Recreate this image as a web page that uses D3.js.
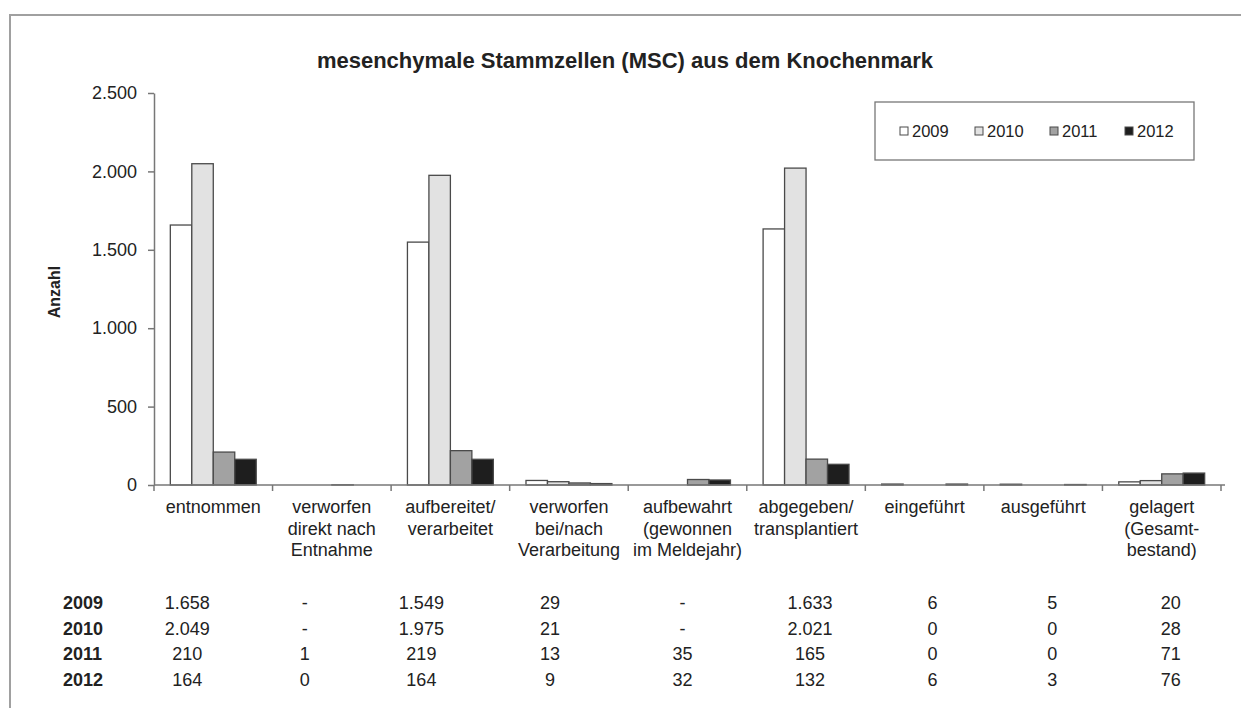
<!DOCTYPE html>
<html>
<head>
<meta charset="utf-8">
<script src="https://cdn.jsdelivr.net/npm/d3@7"></script>
<style>
    html, body { margin: 0; padding: 0; background: #fff; }
    svg { display: block; font-family: "Liberation Sans", Arial, sans-serif; }
    text { fill: #222; }
</style>
</head>
<body>
<svg id="chart" width="1241" height="708"></svg>
<script>
// data
const categories = ["entnommen", "verworfen direkt", "aufbereitet", "verworfen bei/nach",
    "aufbewahrt", "abgegeben", "eingeführt", "ausgeführt", "gelagert"]
const catLabels = [
    ["entnommen"],
    ["verworfen", "direkt nach", "Entnahme"],
    ["aufbereitet/", "verarbeitet"],
    ["verworfen", "bei/nach", "Verarbeitung"],
    ["aufbewahrt", "(gewonnen", "im Meldejahr)"],
    ["abgegeben/", "transplantiert"],
    ["eingeführt"],
    ["ausgeführt"],
    ["gelagert", "(Gesamt-", "bestand)"],
]
const years = ["2009", "2010", "2011", "2012"]
const v2009 = [1658, null, 1549, 29, null, 1633, 6, 5, 20]
const v2010 = [2049, null, 1975, 21, null, 2021, 0, 0, 28]
const v2011 = [210, 1, 219, 13, 35, 165, 0, 0, 71]
const v2012 = [164, 0, 164, 9, 32, 132, 6, 3, 76]
const yTicks = [0, 500, 1000, 1500, 2000, 2500]

const series = [v2009, v2010, v2011, v2012]
const fills = ["#ffffff", "#e2e2e2", "#a2a2a2", "#1e1e1e"]

// layout
const plotL = 154, plotR = 1221, plotT = 93, plotB = 485
// table columns were pasted with their own widths -- nudge from band centers
const colNudge = [-26, -27, -29, -19, -5, 4, 8, 9, 9]
const rowY = [609, 635, 660, 686]

const svg = d3.select("#chart")
const de = d3.formatLocale({decimal: ",", thousands: ".", grouping: [3], currency: ["", "€"]})
const fmt = de.format(",d")

// frame
svg.append("path")
    .attr("d", "M10,708 V15 H1241")
    .attr("fill", "none").attr("stroke", "#a0a0a0").attr("stroke-width", 2)

// title
svg.append("text")
    .attr("x", 625).attr("y", 68)
    .attr("text-anchor", "middle")
    .style("font-size", "22px").style("font-weight", "bold")
    .text("mesenchymale Stammzellen (MSC) aus dem Knochenmark")

// scales
const x = d3.scaleBand().domain(categories).range([plotL, plotR]).padding(0)
const xi = d3.scaleBand().domain(years).range([0, x.bandwidth()]).paddingInner(0).paddingOuter(0.76)
const y = d3.scaleLinear().domain([0, 2500]).range([plotB, plotT])

// y axis
const yAxis = svg.append("g")
    .attr("transform", `translate(${plotL},0)`)
    .call(d3.axisLeft(y).tickValues(yTicks).tickFormat(fmt).tickSize(6).tickSizeOuter(0).tickPadding(11))
yAxis.select(".domain").attr("stroke", "#777").attr("stroke-width", 1.5)
yAxis.selectAll(".tick line").attr("stroke", "#777").attr("stroke-width", 1.5)
yAxis.selectAll(".tick text")
    .style("font-size", "18px").style("font-family", "'Liberation Sans', Arial, sans-serif")
    .attr("fill", "#222")

svg.append("text")
    .attr("transform", "translate(60,292) rotate(-90)")
    .attr("text-anchor", "middle")
    .style("font-size", "16px").style("font-weight", "bold")
    .text("Anzahl")

// bars
const groups = svg.append("g").selectAll("g")
    .data(years)
    .join("g")
    .attr("fill", (d, i) => fills[i])

groups.selectAll("rect")
    .data((yr, si) => categories.map((c, ci) => ({c, yr, v: series[si][ci]})).filter(d => d.v != null && d.v > 0))
    .join("rect")
    .attr("x", d => x(d.c) + xi(d.yr))
    .attr("width", xi.bandwidth())
    .attr("y", d => y(d.v))
    .attr("height", d => plotB - y(d.v))
    .attr("stroke", "#4a4a4a").attr("stroke-width", 1.3)

// x axis
const xAxis = svg.append("g")
xAxis.append("line")
    .attr("x1", plotL).attr("x2", plotR + 4)
    .attr("y1", plotB).attr("y2", plotB)
    .attr("stroke", "#777").attr("stroke-width", 1.5)
xAxis.selectAll(".xtick")
    .data(categories.map(c => x(c)).concat([plotR]))
    .join("line")
    .attr("class", "xtick")
    .attr("x1", d => d).attr("x2", d => d)
    .attr("y1", plotB).attr("y2", plotB + 6)
    .attr("stroke", "#777").attr("stroke-width", 1.5)

const labels = svg.append("g").selectAll("text")
    .data(categories)
    .join("text")
    .attr("text-anchor", "middle")
    .style("font-size", "18px")
    .attr("x", c => x(c) + x.bandwidth() / 2)
    .attr("y", 513)
labels.selectAll("tspan")
    .data((c, i) => catLabels[i])
    .join("tspan")
    .attr("x", function () { return this.parentNode.getAttribute("x") })
    .attr("dy", (d, i) => i === 0 ? 0 : 21.5)
    .text(d => d)

// legend
const lg = svg.append("g")
lg.append("rect")
    .attr("x", 875).attr("y", 102).attr("width", 319).attr("height", 58)
    .attr("fill", "#fff").attr("stroke", "#777").attr("stroke-width", 1.3)
const items = lg.selectAll("g.item")
    .data(years)
    .join("g")
    .attr("class", "item")
    .attr("transform", (d, i) => `translate(${900 + i * 75},131)`)
items.append("rect")
    .attr("x", 0).attr("y", -4).attr("width", 8).attr("height", 8)
    .attr("fill", (d, i) => fills[i]).attr("stroke", "#4a4a4a").attr("stroke-width", 1)
items.append("text")
    .attr("x", 12).attr("y", 6)
    .style("font-size", "16.5px")
    .text(d => d)

// data table
const table = svg.append("g")
table.selectAll("text.rowlab")
    .data(years)
    .join("text")
    .attr("class", "rowlab")
    .attr("x", 63).attr("y", (d, i) => rowY[i])
    .style("font-size", "18px").style("font-weight", "bold")
    .text(d => d)

series.forEach((vals, si) => {
    table.selectAll(`text.r${si}`)
        .data(vals)
        .join("text")
        .attr("class", `r${si}`)
        .attr("text-anchor", "middle")
        .attr("x", (v, ci) => x(categories[ci]) + x.bandwidth() / 2 + colNudge[ci])
        .attr("y", rowY[si])
        .style("font-size", "18px")
        .text(v => v == null ? "-" : fmt(v))
})
</script>
</body>
</html>
